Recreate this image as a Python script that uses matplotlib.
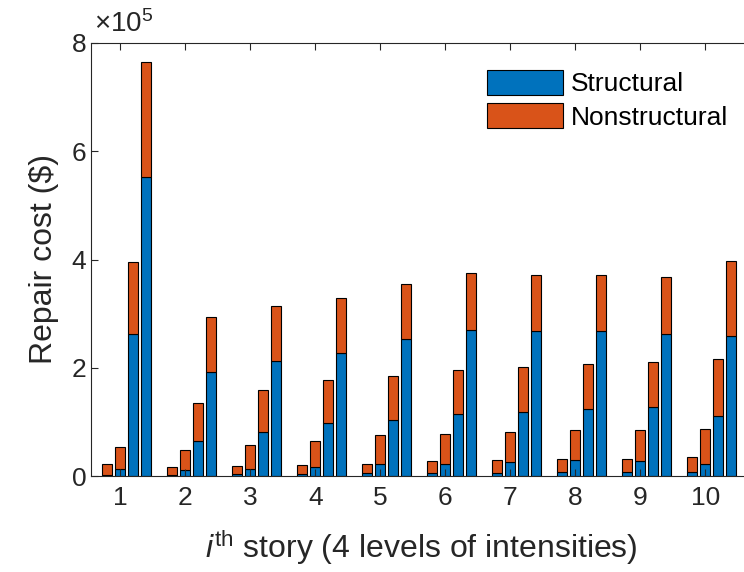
import numpy as np
import matplotlib
matplotlib.use("Agg")
import matplotlib.pyplot as plt
from matplotlib.ticker import FuncFormatter

plt.rcParams['font.family'] = ['Liberation Sans', 'DejaVu Sans']
plt.rcParams['mathtext.fontset'] = 'custom'
plt.rcParams['mathtext.rm'] = 'Liberation Sans'
plt.rcParams['mathtext.it'] = 'Liberation Sans:italic'

# stories and repair costs (units of 1e5 $), one list per intensity level
stories = np.arange(1, 11)
struct_L1 = [0.02, 0.01, 0.03, 0.03, 0.05, 0.05, 0.05, 0.07, 0.07, 0.07]
struct_L2 = [0.135, 0.12, 0.135, 0.16, 0.22, 0.22, 0.26, 0.30, 0.28, 0.22]
struct_L3 = [2.62, 0.64, 0.81, 0.97, 1.03, 1.14, 1.19, 1.23, 1.27, 1.11]
struct_L4 = [5.53, 1.93, 2.12, 2.27, 2.54, 2.70, 2.68, 2.68, 2.62, 2.59]
nonstruct_L1 = [0.20, 0.15, 0.16, 0.17, 0.18, 0.23, 0.25, 0.24, 0.24, 0.29]
nonstruct_L2 = [0.405, 0.36, 0.435, 0.49, 0.53, 0.56, 0.56, 0.55, 0.57, 0.65]
nonstruct_L3 = [1.33, 0.71, 0.77, 0.80, 0.81, 0.82, 0.83, 0.84, 0.83, 1.05]
nonstruct_L4 = [2.12, 1.01, 1.03, 1.01, 1.01, 1.05, 1.03, 1.03, 1.06, 1.38]

structural = [struct_L1, struct_L2, struct_L3, struct_L4]
nonstructural = [nonstruct_L1, nonstruct_L2, nonstruct_L3, nonstruct_L4]
offsets = [-0.2, 0.0, 0.2, 0.4]

blue = '#0072BD'
orange = '#D95319'
dark = '#262626'

fig = plt.figure(figsize=(7.44, 5.72), dpi=100)
# axes runs a little past the right edge of the picture, like the reference
ax = fig.add_axes([91/744, 1 - 476/572, 660/744, 433/572])

for k in range(4):
    s = np.array(structural[k]) * 1e5
    n = np.array(nonstructural[k]) * 1e5
    ax.bar(stories + offsets[k], s, width=0.16, color=blue, edgecolor='black',
           linewidth=0.8, label='Structural' if k == 0 else None)
    ax.bar(stories + offsets[k], n, bottom=s, width=0.16, color=orange,
           edgecolor='black', linewidth=0.8,
           label='Nonstructural' if k == 0 else None)

ax.set_xlim(0.55, 0.55 + 660/65)
ax.set_ylim(0, 8e5)
ax.set_xticks(stories)
ax.set_yticks([0, 2e5, 4e5, 6e5, 8e5])
ax.yaxis.set_major_formatter(FuncFormatter(lambda v, p: f'{v/1e5:g}'))
ax.tick_params(direction='in', top=True, right=True, labelsize=19,
               color=dark, labelcolor=dark, length=5)
ax.tick_params(axis='x', pad=7)
for sp in ax.spines.values():
    sp.set_color(dark)
    sp.set_linewidth(0.8)

ax.text(0.005, 1.012, r'$\times 10^{5}$', transform=ax.transAxes,
        fontsize=20, color=dark, ha='left', va='bottom')

ax.set_ylabel('Repair cost ($)', fontsize=23, color=dark, labelpad=9)
ax.set_xlabel(r'$i^{\mathrm{th}}$ story (4 levels of intensities)',
              fontsize=23, color=dark, labelpad=13)

ax.legend(loc='upper right', bbox_to_anchor=(0.99, 0.975), frameon=False,
          fontsize=19, handlelength=2.9, handleheight=1.1,
          handletextpad=0.3, labelspacing=0.25, borderaxespad=0.2)

fig.savefig('out.png', dpi=100)
